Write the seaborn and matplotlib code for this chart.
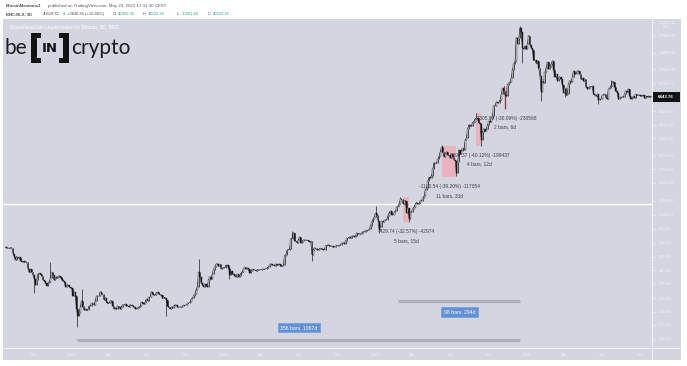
import numpy as np
import pandas as pd
import matplotlib
matplotlib.use("Agg")
import matplotlib.pyplot as plt
import matplotlib.dates as mdates
from matplotlib.patches import Rectangle
from matplotlib.ticker import NullLocator
import seaborn as sns

# ---------------- data (3-day closes, BNC:BLX) ----------------
start_date = "2014-07-26"
close_2014 = [595, 588,
              590, 585, 590, 592, 540, 510, 490, 515, 505, 510, 480,
              475, 480, 470, 475, 470, 425, 400, 420, 400, 385,
              360, 330, 355, 390, 395, 390, 380, 355, 350, 340,
              325, 340, 345, 365, 400, 385, 355, 370, 365, 375,
              380, 370, 360, 350, 345, 320, 325, 330, 320, 315]
close_2015 = [315, 275, 295, 275, 225, 200, 210, 230, 255, 235, 220,
              225, 220, 220, 235, 235, 245, 245, 240, 255,
              275, 275, 275, 295, 285, 285, 260, 268, 250, 245,
              245, 255, 255, 235, 225, 228, 225, 235, 230, 225,
              232, 240, 238, 242, 235, 237, 232, 240, 238, 237, 230,
              226, 225, 228, 230, 235, 250, 245, 242, 250, 262,
              255, 270, 270, 295, 285, 280, 278, 290, 292, 285,
              280, 280, 265, 270, 265, 258, 235, 230, 225, 230,
              228, 235, 240, 238, 232, 230, 232, 230, 235, 238,
              238, 240, 245, 246, 250, 262, 265, 275, 285, 305, 320,
              400, 375, 340, 330, 320, 335, 325, 320, 355, 375,
              360, 390, 415, 435, 455, 460, 440, 455, 425, 428]
close_2016 = [432, 430, 450, 448, 430, 385, 410, 390, 390, 378,
              372, 390, 375, 380, 395, 405, 420, 435, 425, 430,
              420, 395, 412, 420, 415, 418, 410, 418, 415, 416,
              417, 420, 422, 420, 425, 430, 435, 448, 460, 450,
              450, 445, 458, 452, 455, 455, 440, 440, 450, 520, 530,
              570, 575, 580, 680, 690, 750, 660, 660, 640, 670,
              700, 640, 650, 670, 665, 670, 665, 660, 650, 655,
              530, 575, 590, 585, 570, 575, 580, 585, 578, 575,
              575, 610, 615, 620, 610, 607, 610, 595, 600, 605,
              612, 610, 615, 618, 635, 640, 630, 655, 685, 690, 700,
              690, 710, 715, 705, 715, 750, 738, 740, 730, 745,
              765, 760, 770, 780, 780, 790, 830, 890, 930, 960]
close_2017 = [1020, 1000, 910, 780, 820, 900, 890, 915, 915, 920,
              985, 1030, 1060, 995, 1000, 1035, 1055, 1120, 1150, 1190,
              1275, 1275, 1190, 1235, 1250, 1030, 1115, 935, 1040, 1040,
              1100, 1130, 1185, 1210, 1185, 1200, 1240, 1250, 1300, 1340,
              1480, 1520, 1700, 1800, 1780, 1850, 2050, 2280, 2250, 2250,
              2400, 2520, 2700, 2900, 2700, 2500, 2600, 2700, 2580, 2560,
              2450, 2600, 2500, 2380, 2350, 1920, 2300, 2800, 2600, 2750, 2860,
              2800, 3250, 3350, 3900, 4150, 4100, 4050, 4300, 4350, 4580,
              4600, 4600, 4300, 4200, 3250, 3700, 3900, 3750, 3900, 4150,
              4400, 4330, 4600, 4800, 5600, 5600, 5950, 5900, 5900, 6150,
              6700, 7400, 7100, 6600, 6500, 7800, 8000, 8200, 8700, 9900,
              10800, 11300, 16500, 15000, 16300, 19300, 18000, 14000, 13800, 14500, 13800]
close_2018 = [15000, 17000, 14700, 14000, 13600, 11500, 11600, 11000, 11400, 10200,
              9000, 7000, 8200, 8100, 9500, 10200, 11200, 10000, 10300,
              10900, 11400, 9900, 8800, 9200, 8300, 8600, 8900, 8500, 7800, 6900,
              7400, 6600, 6800, 7900, 8350, 8150, 8850, 9650, 9300, 9250,
              9700, 9650, 9300, 8500, 8700, 8250, 8500, 7500, 7350, 7400,
              7600, 7550, 7650, 6750, 6650, 6500, 6750, 6100, 6250, 6200,
              6600, 6650, 6750, 6350, 6250, 7300, 7400, 7700, 8200, 8200,
              7600, 7050, 6900, 6200, 6300, 6400, 6450, 6400, 6700, 7100, 7000,
              7300, 6500, 6250, 6300, 6500, 6350, 6750, 6600, 6650, 6620,
              6500, 6600, 6630, 6300, 6500, 6480, 6500, 6440, 6450, 6443.76]

wick_high = {"2014-11-11": 470, "2015-01-25": 310, "2015-11-03": 495,
             "2016-06-15": 775, "2017-01-02": 1150, "2017-03-03": 1330,
             "2017-06-10": 2990, "2017-09-02": 4980, "2017-11-07": 7670,
             "2017-12-16": 19800, "2018-01-06": 17200, "2018-05-03": 9950,
             "2018-07-23": 8480}
wick_low = {"2014-10-03": 290, "2015-01-13": 168, "2015-08-17": 200,
            "2016-01-14": 360, "2016-08-02": 480, "2017-01-11": 750,
            "2017-03-24": 890, "2017-07-16": 1830, "2017-09-14": 2980,
            "2017-11-10": 5360, "2017-12-22": 11000, "2018-02-05": 6000,
            "2018-04-03": 6450, "2018-06-23": 5800}

# price-range drawings (start, end, from, to, text, bars)
box_start = ["2017-03-09", "2017-06-12", "2017-09-02", "2017-11-08"]
box_end = ["2017-03-24", "2017-07-15", "2017-09-14", "2017-11-14"]
box_from = [1319.5, 2986.0, 4971.0, 7663.0]
box_to = [889.8, 1815.5, 2976.6, 5357.3]
box_text = ["-429.74 (-32.57%) -42974", "-1170.54 (-39.20%) -117054",
            "-1994.37 (-40.12%) -199437", "-2305.68 (-30.09%) -230568"]
box_bars = ["5 bars, 15d", "11 bars, 33d", "4 bars, 12d", "2 bars, 6d"]

# date-range drawings
rng_start = ["2015-01-14", "2017-02-26"]
rng_end = ["2017-12-17", "2017-12-17"]
rng_price = [137.3, 254.5]
rng_label_price = [167.3, 213.8]
rng_text = ["356 bars, 1067d", "98 bars, 294d"]

level_line = 1175.0
last_price = 6443.76

ytick_vals = [140, 175, 215, 265, 335, 415, 515, 640, 800, 1000, 1250, 1650,
              2050, 2550, 3350, 4150, 5150, 8000, 10000, 13000, 17000, 21000]
xtick_dates = ["2014-10-01", "2015-01-01", "2015-04-01", "2015-07-01", "2015-10-01",
               "2016-01-01", "2016-04-01", "2016-07-01", "2016-10-01",
               "2017-01-01", "2017-04-01", "2017-07-01", "2017-10-01",
               "2018-01-01", "2018-04-01", "2018-07-01", "2018-10-01"]
xtick_labels = ["Oct", "2015", "Apr", "Jul", "Oct", "2016", "Apr", "Jul", "Oct",
                "2017", "Apr", "Jul", "Oct", "2018", "Apr", "Jul", "Oct"]

# ---------------- layout helpers ----------------
W, H = 687, 366
BG = "#d3d6e0"
AXC = "#f2f3f7"
FONT = ["Liberation Sans", "DejaVu Sans"]

closes = np.array(close_2014 + close_2015 + close_2016 + close_2017 + close_2018, float)
dates = pd.date_range(start_date, periods=len(closes), freq="3D")
df = pd.DataFrame({"date": dates, "close": closes})
df["open"] = df["close"].shift(1).fillna(600.0)
df["high"] = df[["open", "close"]].max(axis=1)
df["low"] = df[["open", "close"]].min(axis=1)
for d, v in wick_high.items():
    i = int(np.argmin(np.abs(df["date"] - pd.Timestamp(d))))
    df.loc[i, "high"] = max(df.loc[i, "high"], v)
for d, v in wick_low.items():
    i = int(np.argmin(np.abs(df["date"] - pd.Timestamp(d))))
    df.loc[i, "low"] = min(df.loc[i, "low"], v)
dn = mdates.date2num(df["date"])

LOG_REF, Y_REF, PPD = np.log10(17000), 35.7, 145.4
D_REF, X_REF, PXDAY = mdates.date2num(pd.Timestamp("2015-01-14")), 77.0, 0.41518


def px2price(y):
    return 10 ** (LOG_REF - (y - Y_REF) / PPD)


def px2date(x):
    return D_REF + (x - X_REF) / PXDAY


sns.set_theme(style="white")
plt.rcParams["font.family"] = FONT

fig = plt.figure(figsize=(W / 100, H / 100), dpi=100)
fig.patch.set_facecolor("white")
fig.patches.append(Rectangle((3 / W, 1 - 360 / H), 678 / W, 341 / H,
                             transform=fig.transFigure, facecolor=BG,
                             edgecolor="none", zorder=-1))

ax = fig.add_axes([3 / W, 1 - 348 / H, 649 / W, 329 / H])
ax.set_facecolor(BG)
ax.set_yscale("log")

# level line
ax.axhline(level_line, color="white", lw=1.0, zorder=1)

# red price-range boxes
for s, e, f, t, txt, bars in zip(box_start, box_end, box_from, box_to, box_text, box_bars):
    s_n, e_n = mdates.date2num(pd.Timestamp(s)), mdates.date2num(pd.Timestamp(e))
    ax.add_patch(Rectangle((s_n, t), e_n - s_n, f - t, facecolor="#e9b2bc",
                           edgecolor="none", zorder=1.5))
    cx = (s_n + e_n) / 2
    ax.text(cx, t * 10 ** (-9.5 / PPD), txt, ha="center", va="center",
            fontsize=3.5, color="#3c3f48", zorder=2)
    ax.text(cx, t * 10 ** (-18.5 / PPD), bars, ha="center", va="center",
            fontsize=3.5, color="#3c3f48", zorder=2)

# date ranges
for s, e, p, lp, txt in zip(rng_start, rng_end, rng_price, rng_label_price, rng_text):
    s_n, e_n = mdates.date2num(pd.Timestamp(s)), mdates.date2num(pd.Timestamp(e))
    ax.hlines(p, s_n, e_n, color="#aeb1ba", lw=2.3, zorder=1.2)
    ax.text((s_n + e_n) / 2, lp, txt, ha="center", va="center", fontsize=3.7,
            color="white", zorder=2,
            bbox=dict(boxstyle="square,pad=0.45", fc="#6190d4", ec="#6a98da", lw=0.4))

# candles
sns.lineplot(data=df, x="date", y="close", ax=ax, color="#1e1e22", lw=0.45,
             zorder=3, legend=False)
ax.vlines(dn, df["low"], df["high"], color="#1e1e22", lw=0.5, zorder=3)
up = (df["close"] >= df["open"]).values
ax.bar(dn[up], (df["close"] - df["open"]).values[up], bottom=df["open"].values[up],
       width=2.0, color="#f4f4f6", edgecolor="#1e1e22", lw=0.25, zorder=4)
ax.bar(dn[~up], (df["open"] - df["close"]).values[~up], bottom=df["close"].values[~up],
       width=2.0, color="#151518", edgecolor="#151518", lw=0.25, zorder=4)

ax.set_xlim(px2date(3), px2date(652))
ax.set_ylim(px2price(348), px2price(19))

ax.set_yticks(ytick_vals)
ax.set_yticklabels([f"{v:.2f}" for v in ytick_vals])
ax.yaxis.set_minor_locator(NullLocator())
ax.yaxis.tick_right()
ax.tick_params(axis="y", length=2.5, width=0.5, color=AXC, labelcolor=AXC,
               labelsize=3.1, pad=2.2, direction="out")
ax.set_xticks(mdates.date2num(pd.to_datetime(xtick_dates)))
ax.set_xticklabels(xtick_labels)
ax.tick_params(axis="x", length=2.0, width=0.5, color=AXC, labelcolor=AXC,
               labelsize=3.1, pad=1.8, direction="out")
ax.set_xlabel("")
ax.set_ylabel("")
for sp in ax.spines.values():
    sp.set_visible(False)
ax.grid(False)

# ---------------- overlay (pixel coords) ----------------
ov = fig.add_axes([0, 0, 1, 1], zorder=10)
ov.set_xlim(0, W)
ov.set_ylim(H, 0)
ov.axis("off")
ov.patch.set_alpha(0)

ov.plot([652, 652], [19, 360], color=AXC, lw=0.7)
ov.plot([3, 681], [348, 348], color=AXC, lw=0.7)

# price tag
tag_y = Y_REF + (LOG_REF - np.log10(last_price)) * PPD
ov.add_patch(Rectangle((652, tag_y - 5), 28, 10, facecolor="#131316", edgecolor="none"))
ov.text(666, tag_y, f"{last_price:.2f}", ha="center", va="center", fontsize=3.2,
        color="white", fontweight="bold")
ov.text(667, 27.5, "BTC", ha="center", va="center", fontsize=3.0, color=AXC)

# header
HF = 3.0
DARK = "#4d4d4d"
GREEN = "#26a69a"
ov.text(6, 6, "BitcoinMaximus1", fontsize=HF + 0.2, fontweight="bold", color=DARK, va="center")
ov.text(48, 6, "published on TradingView.com, May 23, 2021 17:31:30 CEST", fontsize=HF + 0.2,
        color="#5a5a5a", va="center")
ov.text(6, 14, "BNC:BLX, 3D", fontsize=HF, fontweight="bold", color=DARK, va="center")
ov.text(43, 14, "40629.61", fontsize=HF, color=DARK, va="center")
ov.text(62.5, 14, "\u25b2", fontsize=HF - 0.8, color=GREEN, va="center",
        family=["DejaVu Sans"])
ov.text(67, 14, "+3846.65 (+10.46%)", fontsize=HF, color=DARK, va="center")
segs = [(113, "O:", "42950.35"), (143, "H:", "43532.36"), (177, "L:", "30261.48"),
        (208, "C:", "40629.61")]
for x0, k, v in segs:
    ov.text(x0, 14, k, fontsize=HF, color=DARK, va="center")
    ov.text(x0 + 5, 14, v, fontsize=HF, color=GREEN, va="center")

ov.text(10, 27, "BraveNewCoin Liquid Index for Bitcoin, 3D, BNC", fontsize=3.6,
        color="white", va="center")

# logo
ov.text(4, 48, "be", fontsize=15, color="#1c1c1c", va="center", family=["Lato", "DejaVu Sans"])
ov.add_patch(Rectangle((31, 33), 6, 30, facecolor="#111", edgecolor="none"))
ov.add_patch(Rectangle((31, 33), 10, 5, facecolor="#111", edgecolor="none"))
ov.add_patch(Rectangle((31, 58), 10, 5, facecolor="#111", edgecolor="none"))
ov.add_patch(Rectangle((63, 33), 6, 30, facecolor="#111", edgecolor="none"))
ov.add_patch(Rectangle((59, 33), 10, 5, facecolor="#111", edgecolor="none"))
ov.add_patch(Rectangle((59, 58), 10, 5, facecolor="#111", edgecolor="none"))
ov.text(50, 48, "IN", fontsize=9.5, color="#111", va="center", ha="center",
        fontweight="heavy", family=["DejaVu Sans"])
ov.text(71, 48, "crypto", fontsize=15, color="#1c1c1c", va="center",
        family=["Lato", "DejaVu Sans"])

fig.savefig("out.png", dpi=100, facecolor="white")
